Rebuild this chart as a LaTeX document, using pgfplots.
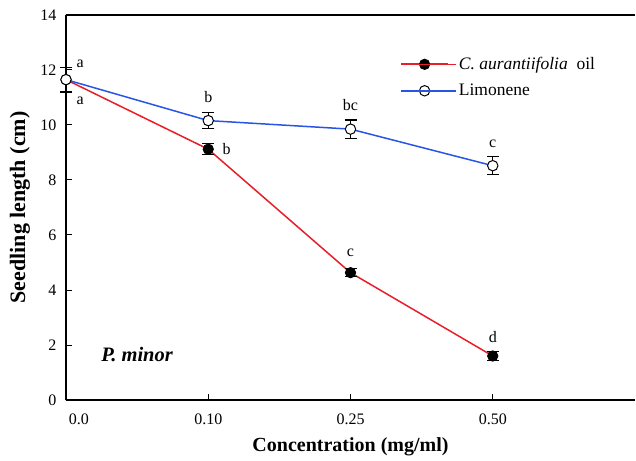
\documentclass[border=0pt]{standalone}
\usepackage{fontspec}
\setmainfont{Liberation Serif}
\usepackage{pgfplots}
\pgfplotsset{compat=1.18}

\definecolor{redline}{RGB}{232,30,40}
\definecolor{blueline}{RGB}{40,85,230}

\pgfplotstableread{
x  y     err
0  11.65 0.45
1  9.12  0.20
2  4.63  0.15
3  1.60  0.15
}\oiltab
\pgfplotstableread{
x  y     err
0  11.65 0.45
1  10.16 0.30
2  9.85  0.33
3  8.52  0.33
}\limtab

\begin{document}
\begin{tikzpicture}
\begin{axis}[
    name=ax,
    scale only axis,
    width=569pt, height=385pt,
    xmin=0, xmax=4,
    ymin=0, ymax=14,
    axis x line*=box,
    axis y line*=left,
    axis line style={line width=1.3pt},
    xtick={0,1,2,3},
    xticklabels={\hspace*{1.6em}0.0,0.10,0.25,0.50},
    xtick pos=bottom,
    ytick={0,2,...,14},
    tick align=inside,
    major tick length=6pt,
    every tick/.style={black, line width=1pt},
    /pgf/number format/assume math mode=true,
    tick label style={font=\fontsize{16}{18}\selectfont},
    yticklabel style={xshift=-6pt},
    xticklabel style={yshift=-10pt},
    xlabel={\textbf{Concentration (mg/ml)}},
    ylabel={\textbf{Seedling length (cm)}},
    xlabel style={font=\fontsize{20}{22}\selectfont, at={(axis description cs:0.5,-0.122)}, anchor=center},
    ylabel style={font=\fontsize{22}{24}\selectfont, at={(axis description cs:-0.081,0.5)}, anchor=center},
    clip=false,
    legend style={draw=none, fill=none, inner sep=0pt, at={(axis description cs:0.587,0.838)}, anchor=west,
        font=\fontsize{17.5}{20}\selectfont, row sep=9pt},
    legend cell align=left,
    legend image code/.code={
        \draw[#1, mark=none, line width=1.8pt] (0pt,0pt) -- (47pt,0pt);
        \draw[#1, draw=black, only marks] plot coordinates {(23.5pt,0pt)};
        \path (0pt,0pt) -- (55pt,0pt);
    },
]
\addplot[redline, line width=1.5pt, mark=*, mark size=5.2pt,
    mark options={fill=black, draw=black, line width=0.8pt},
    error bars/.cd, y dir=both, y explicit,
    error bar style={black, line width=1.2pt}, error mark options={rotate=90, black, mark size=6pt, line width=1.2pt}]
    table[x=x, y=y, y error=err] {\oiltab};
\addlegendentry{\textit{C. aurantiifolia}\ \ oil}
\addplot[blueline, line width=1.5pt, mark=*, mark size=5.2pt,
    mark options={fill=white, draw=black, line width=1pt},
    error bars/.cd, y dir=both, y explicit,
    error bar style={black, line width=1.2pt}, error mark options={rotate=90, black, mark size=6pt, line width=1.2pt}]
    table[x=x, y=y, y error=err] {\limtab};
\addlegendentry{Limonene}
% significance letters
\begin{scope}[every node/.style={font=\fontsize{16}{18}\selectfont}]
\node at (axis cs:0.1,12.22) {a};
\node at (axis cs:0.1,10.88) {a};
\node at (axis cs:1,11.02) {b};
\node at (axis cs:2,10.73) {bc};
\node at (axis cs:3,9.33) {c};
\node at (axis cs:1.13,9.13) {b};
\node at (axis cs:2,5.35) {c};
\node at (axis cs:3,2.29) {d};
\end{scope}
\node[font=\fontsize{20.5}{22}\selectfont\bfseries\itshape] at (axis cs:0.5,1.64) {P. minor};
\end{axis}
\pgfresetboundingbox
\path ([shift={(-66pt,-60pt)}]ax.south west) rectangle ([shift={(1pt,15pt)}]ax.north east);
\end{tikzpicture}
\end{document}
